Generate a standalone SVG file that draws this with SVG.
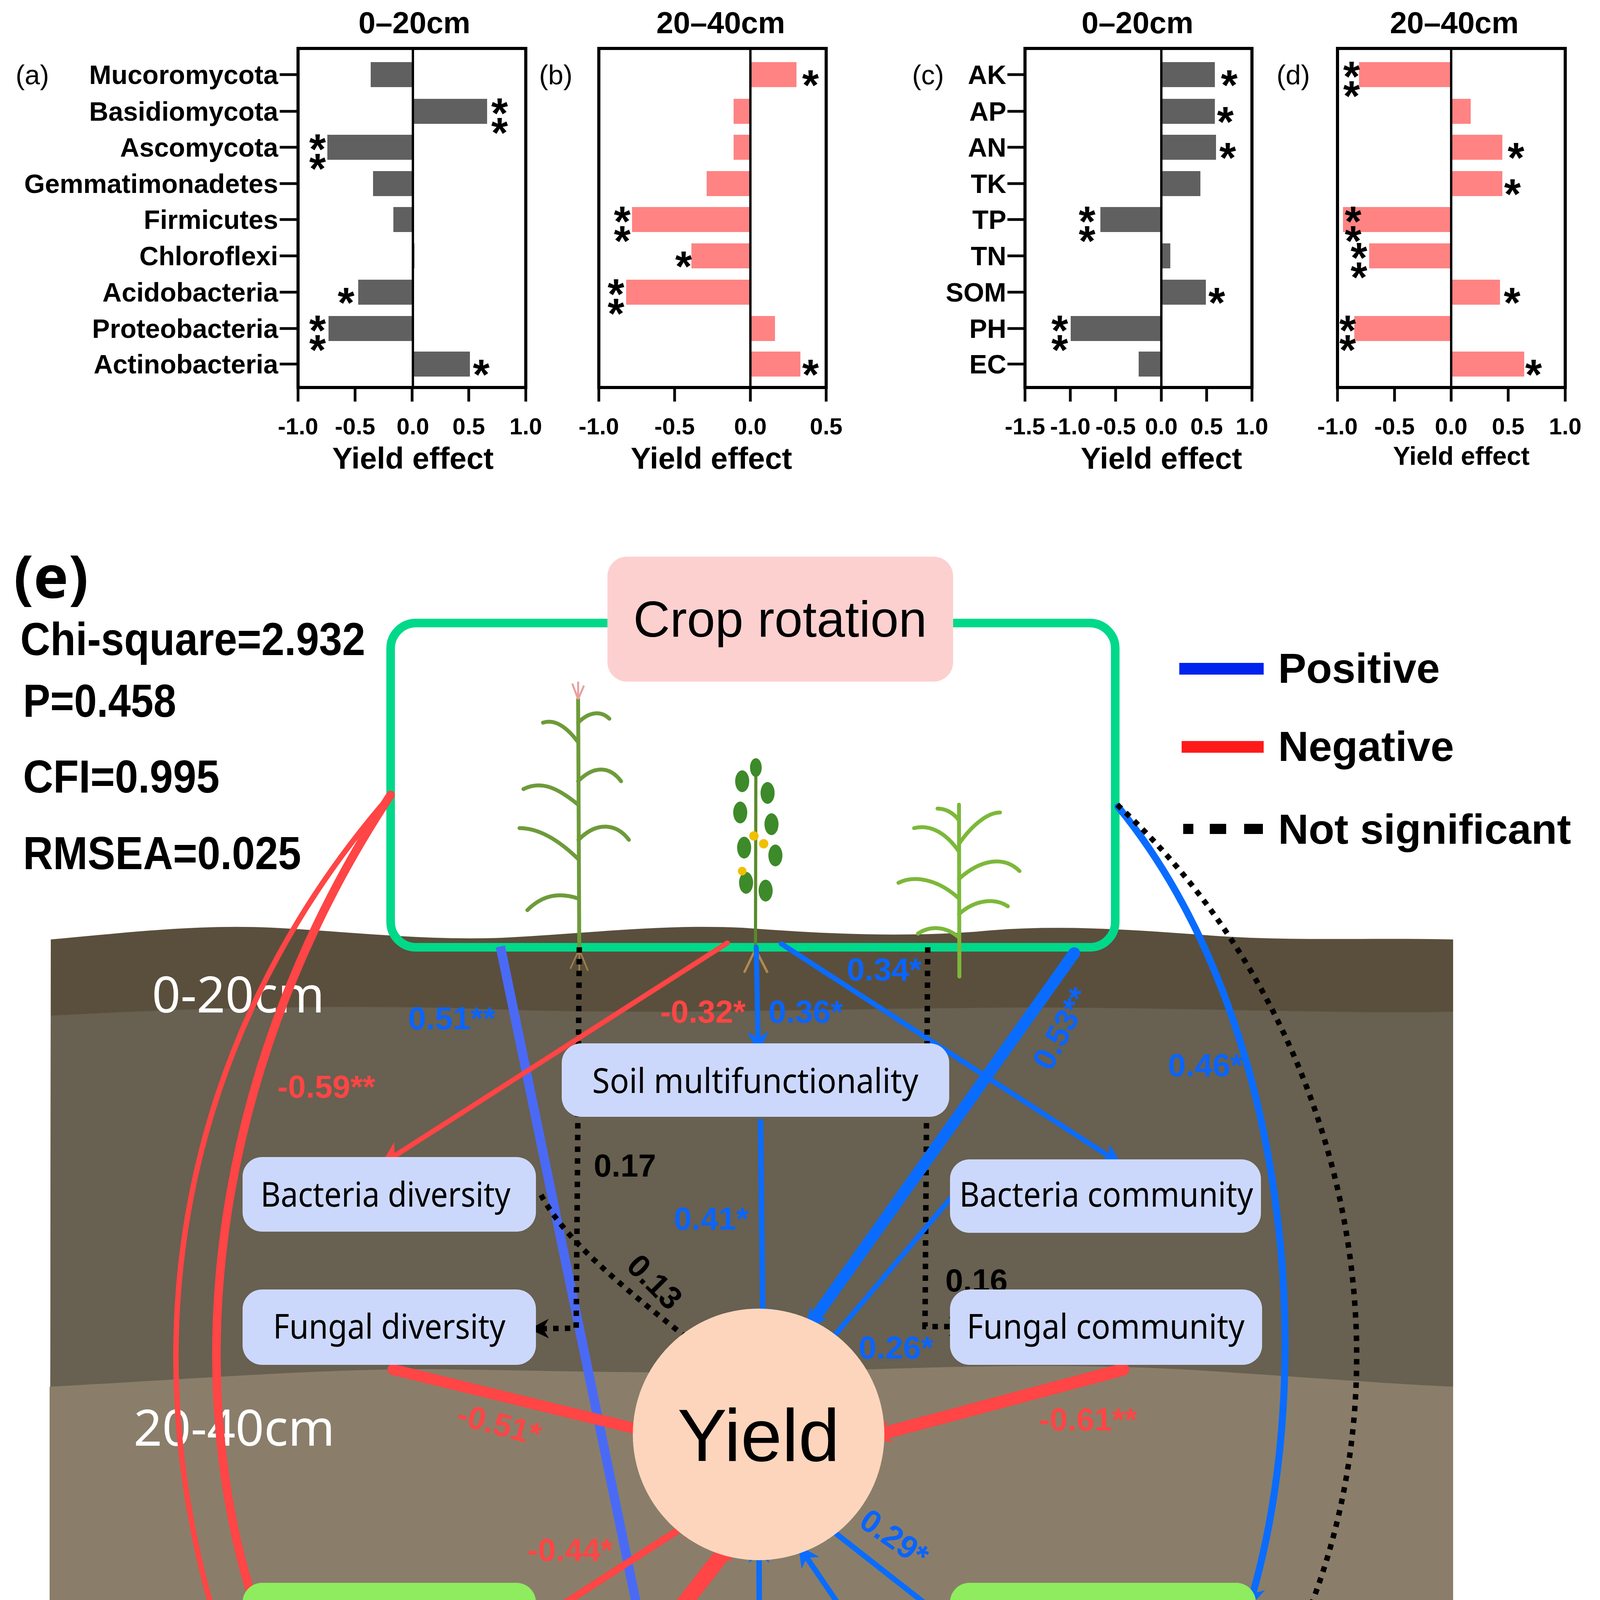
<svg xmlns="http://www.w3.org/2000/svg" width="4102" height="5161" viewBox="0 0 4102 5161">
<defs>
<style>
.ax{fill:none;stroke:#000;stroke-width:8}
.zl{stroke:#000;stroke-width:6}
.tk{stroke:#000;stroke-width:7}
.gb{fill:#606060}
.pb{fill:#ff8383}
.rl{font-family:"Liberation Sans",Arial,sans-serif;font-weight:bold;font-size:68px;fill:#000;text-anchor:end}
.tl{font-family:"Liberation Sans",Arial,sans-serif;font-weight:bold;font-size:60px;fill:#000;text-anchor:middle}
.tt{font-family:"Liberation Sans",Arial,sans-serif;font-weight:bold;font-size:78px;fill:#000;text-anchor:middle}
.st{font-family:"Liberation Sans",Arial,sans-serif;font-weight:bold;font-size:110px;fill:#000;text-anchor:middle}
.pl{font-family:"Liberation Sans",Arial,sans-serif;font-size:70px;fill:#000}
.node1{fill:#ccd8fb}
.node2{fill:#8eec5e}
.nt{font-family:"Noto Sans","Open Sans",sans-serif;font-size:88px;fill:#000}
.stat{font-family:"Liberation Sans",Arial,sans-serif;font-weight:bold;font-size:118px;fill:#000}
.lb{font-family:"Liberation Sans",Arial,sans-serif;font-weight:bold;font-size:82px}
.bl{fill:#0a64ff}
.rd{fill:#ff4545}
.bk{fill:#000}
.cb{fill:none;stroke:#0a6cff;stroke-linecap:round}
.cr{fill:none;stroke:#ff4545;stroke-linecap:round}
.cd{fill:none;stroke:#000;stroke-width:14;stroke-dasharray:14 16}
.lg{font-family:"Liberation Sans",Arial,sans-serif;font-weight:bold;font-size:108px;fill:#000}
</style>
<marker id="ab" viewBox="0 0 10 10" refX="8" refY="5" markerUnits="userSpaceOnUse" markerWidth="55" markerHeight="55" orient="auto"><path d="M0,0 L10,5 L0,10 L3,5 Z" fill="#0a6cff"/></marker>
<marker id="abl" viewBox="0 0 10 10" refX="8" refY="5" markerUnits="userSpaceOnUse" markerWidth="60" markerHeight="60" orient="auto"><path d="M0,0 L10,5 L0,10 L3,5 Z" fill="#4a6af5"/></marker>
<marker id="ar" viewBox="0 0 10 10" refX="8" refY="5" markerUnits="userSpaceOnUse" markerWidth="60" markerHeight="60" orient="auto"><path d="M0,0 L10,5 L0,10 L3,5 Z" fill="#ff4545"/></marker>
<marker id="ark" viewBox="0 0 10 10" refX="8" refY="5" markerUnits="userSpaceOnUse" markerWidth="50" markerHeight="50" orient="auto"><path d="M0,0 L10,5 L0,10 L3,5 Z" fill="#000"/></marker>
</defs>
<rect width="4102" height="5161" fill="#fff"/>

<g id="panel-a">
<text class="tt" x="1061" y="85">0–20cm</text>
<text class="pl" x="40" y="216">(a)</text>
<g class="gb">
<rect x="949" y="159" width="108" height="64"/>
<rect x="1057" y="253" width="190" height="64"/>
<rect x="838" y="345" width="219" height="64"/>
<rect x="955" y="438" width="102" height="64"/>
<rect x="1007" y="530" width="50" height="64"/>
<rect x="1055" y="623" width="6" height="64"/>
<rect x="917" y="716" width="140" height="64"/>
<rect x="841" y="809" width="216" height="64"/>
<rect x="1057" y="900" width="146" height="64"/>
</g>
<rect class="ax" x="763" y="124" width="583" height="868"/>
<line class="zl" x1="1057" y1="124" x2="1057" y2="992"/>
<g class="tk">
<line x1="716" y1="191" x2="763" y2="191"/><line x1="716" y1="285" x2="763" y2="285"/><line x1="716" y1="377" x2="763" y2="377"/><line x1="716" y1="470" x2="763" y2="470"/><line x1="716" y1="562" x2="763" y2="562"/><line x1="716" y1="655" x2="763" y2="655"/><line x1="716" y1="748" x2="763" y2="748"/><line x1="716" y1="841" x2="763" y2="841"/><line x1="716" y1="932" x2="763" y2="932"/>
<line x1="763" y1="992" x2="763" y2="1028"/><line x1="909" y1="992" x2="909" y2="1028"/><line x1="1055" y1="992" x2="1055" y2="1028"/><line x1="1200" y1="992" x2="1200" y2="1028"/><line x1="1346" y1="992" x2="1346" y2="1028"/>
</g>
<text class="rl" x="712" y="215">Mucoromycota</text>
<text class="rl" x="712" y="309">Basidiomycota</text>
<text class="rl" x="712" y="401">Ascomycota</text>
<text class="rl" x="712" y="494">Gemmatimonadetes</text>
<text class="rl" x="712" y="586">Firmicutes</text>
<text class="rl" x="712" y="679">Chloroflexi</text>
<text class="rl" x="712" y="772">Acidobacteria</text>
<text class="rl" x="712" y="865">Proteobacteria</text>
<text class="rl" x="712" y="956">Actinobacteria</text>
<text class="tl" x="763" y="1112">-1.0</text><text class="tl" x="909" y="1112">-0.5</text><text class="tl" x="1057" y="1112">0.0</text><text class="tl" x="1200" y="1112">0.5</text><text class="tl" x="1346" y="1112">1.0</text>
<text class="tt" x="1057" y="1200">Yield effect</text>
<text class="st" x="1279" y="327">*</text><text class="st" x="1279" y="377">*</text>
<text class="st" x="813" y="419">*</text><text class="st" x="813" y="469">*</text>
<text class="st" x="886" y="812">*</text>
<text class="st" x="813" y="883">*</text><text class="st" x="813" y="933">*</text>
<text class="st" x="1232" y="996">*</text>
</g>

<g id="panel-b">
<text class="tt" x="1845" y="85">20–40cm</text>
<text class="pl" x="1380" y="216">(b)</text>
<g class="pb">
<rect x="1921" y="159" width="118" height="64"/>
<rect x="1878" y="253" width="43" height="64"/>
<rect x="1878" y="345" width="43" height="64"/>
<rect x="1809" y="438" width="112" height="64"/>
<rect x="1618" y="530" width="303" height="64"/>
<rect x="1770" y="623" width="151" height="64"/>
<rect x="1603" y="716" width="318" height="64"/>
<rect x="1921" y="809" width="63" height="64"/>
<rect x="1921" y="900" width="128" height="64"/>
</g>
<rect class="ax" x="1533" y="124" width="582" height="868"/>
<line class="zl" x1="1921" y1="124" x2="1921" y2="992"/>
<g class="tk"><line x1="1533" y1="992" x2="1533" y2="1028"/><line x1="1727" y1="992" x2="1727" y2="1028"/><line x1="1921" y1="992" x2="1921" y2="1028"/><line x1="2115" y1="992" x2="2115" y2="1028"/></g>
<text class="tl" x="1533" y="1112">-1.0</text><text class="tl" x="1727" y="1112">-0.5</text><text class="tl" x="1921" y="1112">0.0</text><text class="tl" x="2115" y="1112">0.5</text>
<text class="tt" x="1821" y="1200">Yield effect</text>
<text class="st" x="2075" y="255">*</text>
<text class="st" x="1593" y="604">*</text><text class="st" x="1593" y="654">*</text>
<text class="st" x="1750" y="719">*</text>
<text class="st" x="1577" y="790">*</text><text class="st" x="1577" y="840">*</text>
<text class="st" x="2075" y="996">*</text>
</g>

<g id="panel-c">
<text class="tt" x="2912" y="85">0–20cm</text>
<text class="pl" x="2335" y="216">(c)</text>
<g class="gb">
<rect x="2973" y="159" width="137" height="64"/>
<rect x="2973" y="253" width="137" height="64"/>
<rect x="2973" y="345" width="140" height="64"/>
<rect x="2973" y="438" width="100" height="64"/>
<rect x="2817" y="530" width="156" height="64"/>
<rect x="2973" y="623" width="23" height="64"/>
<rect x="2973" y="716" width="114" height="64"/>
<rect x="2741" y="809" width="232" height="64"/>
<rect x="2915" y="900" width="58" height="64"/>
</g>
<rect class="ax" x="2624" y="124" width="581" height="868"/>
<line class="zl" x1="2973" y1="124" x2="2973" y2="992"/>
<g class="tk">
<line x1="2579" y1="191" x2="2624" y2="191"/><line x1="2579" y1="285" x2="2624" y2="285"/><line x1="2579" y1="377" x2="2624" y2="377"/><line x1="2579" y1="470" x2="2624" y2="470"/><line x1="2579" y1="562" x2="2624" y2="562"/><line x1="2579" y1="655" x2="2624" y2="655"/><line x1="2579" y1="748" x2="2624" y2="748"/><line x1="2579" y1="841" x2="2624" y2="841"/><line x1="2579" y1="932" x2="2624" y2="932"/>
<line x1="2624" y1="992" x2="2624" y2="1028"/><line x1="2740" y1="992" x2="2740" y2="1028"/><line x1="2856" y1="992" x2="2856" y2="1028"/><line x1="2973" y1="992" x2="2973" y2="1028"/><line x1="3089" y1="992" x2="3089" y2="1028"/><line x1="3205" y1="992" x2="3205" y2="1028"/>
</g>
<text class="rl" x="2576" y="215">AK</text><text class="rl" x="2576" y="309">AP</text><text class="rl" x="2576" y="401">AN</text><text class="rl" x="2576" y="494">TK</text><text class="rl" x="2576" y="586">TP</text><text class="rl" x="2576" y="679">TN</text><text class="rl" x="2576" y="772">SOM</text><text class="rl" x="2576" y="865">PH</text><text class="rl" x="2576" y="956">EC</text>
<text class="tl" x="2624" y="1112">-1.5</text><text class="tl" x="2740" y="1112">-1.0</text><text class="tl" x="2856" y="1112">-0.5</text><text class="tl" x="2973" y="1112">0.0</text><text class="tl" x="3089" y="1112">0.5</text><text class="tl" x="3205" y="1112">1.0</text>
<text class="tt" x="2973" y="1200">Yield effect</text>
<text class="st" x="3147" y="255">*</text>
<text class="st" x="3137" y="349">*</text>
<text class="st" x="3143" y="441">*</text>
<text class="st" x="2783" y="604">*</text><text class="st" x="2783" y="654">*</text>
<text class="st" x="3115" y="812">*</text>
<text class="st" x="2713" y="883">*</text><text class="st" x="2713" y="933">*</text>
</g>

<g id="panel-d">
<text class="tt" x="3723" y="85">20–40cm</text>
<text class="pl" x="3268" y="216">(d)</text>
<g class="pb">
<rect x="3479" y="159" width="236" height="64"/>
<rect x="3715" y="253" width="50" height="64"/>
<rect x="3715" y="345" width="131" height="64"/>
<rect x="3715" y="438" width="131" height="64"/>
<rect x="3438" y="530" width="277" height="64"/>
<rect x="3505" y="623" width="210" height="64"/>
<rect x="3715" y="716" width="125" height="64"/>
<rect x="3467" y="809" width="248" height="64"/>
<rect x="3715" y="900" width="187" height="64"/>
</g>
<rect class="ax" x="3424" y="124" width="583" height="868"/>
<line class="zl" x1="3715" y1="124" x2="3715" y2="992"/>
<g class="tk"><line x1="3424" y1="992" x2="3424" y2="1028"/><line x1="3570" y1="992" x2="3570" y2="1028"/><line x1="3715" y1="992" x2="3715" y2="1028"/><line x1="3861" y1="992" x2="3861" y2="1028"/><line x1="4007" y1="992" x2="4007" y2="1028"/></g>
<text class="tl" x="3424" y="1112">-1.0</text><text class="tl" x="3570" y="1112">-0.5</text><text class="tl" x="3715" y="1112">0.0</text><text class="tl" x="3861" y="1112">0.5</text><text class="tl" x="4007" y="1112">1.0</text>
<text class="tt" x="3741" y="1190" style="font-size:66px">Yield effect</text>
<text class="st" x="3460" y="233">*</text><text class="st" x="3460" y="283">*</text>
<text class="st" x="3881" y="441">*</text>
<text class="st" x="3872" y="534">*</text>
<text class="st" x="3464" y="604">*</text><text class="st" x="3464" y="654">*</text>
<text class="st" x="3479" y="697">*</text><text class="st" x="3479" y="747">*</text>
<text class="st" x="3871" y="812">*</text>
<text class="st" x="3450" y="883">*</text><text class="st" x="3450" y="933">*</text>
<text class="st" x="3926" y="996">*</text>
</g>

<g id="panel-e-bg">
<text x="35" y="1530" style="font-family:'Noto Sans','DejaVu Sans',sans-serif;font-weight:bold;font-size:150px">(e)</text>
<text class="stat" x="52" y="1677" textLength="883" lengthAdjust="spacingAndGlyphs">Chi-square=2.932</text>
<text class="stat" x="59" y="1835" textLength="392" lengthAdjust="spacingAndGlyphs">P=0.458</text>
<text class="stat" x="59" y="2029" textLength="503" lengthAdjust="spacingAndGlyphs">CFI=0.995</text>
<text class="stat" x="59" y="2225" textLength="712" lengthAdjust="spacingAndGlyphs">RMSEA=0.025</text>
<rect x="1000" y="1595" width="1855" height="830" rx="65" fill="#fff"/>
<path d="M130,2405 C300,2390 500,2365 700,2375 C900,2385 1100,2410 1300,2400 C1500,2390 1700,2365 1900,2375 C2100,2390 2300,2400 2500,2385 C2700,2365 2900,2380 3100,2395 C3300,2410 3500,2400 3720,2405 L3720,5125 L127,5125 Z" fill="#5a4f3c"/>
<path d="M130,2600 C500,2580 900,2570 1300,2585 C1800,2600 2300,2575 2800,2580 C3200,2585 3500,2595 3720,2590 L3720,5125 L127,5125 Z" fill="#686050"/>
<path d="M127,3550 C500,3530 800,3505 1100,3505 C1500,3510 1800,3520 2100,3510 C2500,3495 2800,3490 3100,3510 C3400,3530 3600,3545 3720,3550 L3720,5125 L127,5125 Z" fill="#8a7e6a"/>
<rect x="1000" y="1595" width="1855" height="830" rx="65" fill="none" stroke="#00d88a" stroke-width="22"/>
<text x="389" y="2592" style="font-family:'Noto Sans','Open Sans',sans-serif;font-size:128px;fill:#fff">0-20cm</text>
<text x="342" y="3701" style="font-family:'Noto Sans','Open Sans',sans-serif;font-size:128px;fill:#fff">20-40cm</text>
</g>

<g id="plants">
<g fill="none" stroke="#6e9b3a" stroke-width="10" stroke-linecap="round">
<path d="M1483,2440 L1480,1790"/>
<path d="M1480,2300 C1420,2280 1380,2300 1350,2330"/>
<path d="M1481,2200 C1430,2150 1380,2120 1330,2120"/>
<path d="M1481,2150 C1530,2100 1580,2110 1610,2150"/>
<path d="M1480,2060 C1420,2010 1380,2000 1340,2020"/>
<path d="M1480,2000 C1520,1960 1560,1960 1590,2000"/>
<path d="M1480,1900 C1450,1860 1420,1840 1390,1850"/>
<path d="M1480,1850 C1510,1820 1540,1820 1560,1840"/>
</g>
<g stroke="#e8a0a0" stroke-width="5"><path d="M1480,1790 L1465,1750 M1480,1790 L1495,1755 M1480,1790 L1480,1745"/></g>
<g stroke="#a08050" stroke-width="4" fill="none"><path d="M1483,2430 L1460,2480 M1483,2430 L1505,2485 M1483,2430 L1483,2490"/></g>
<path d="M1934,2440 L1935,1970" stroke="#5a8a2a" stroke-width="8" fill="none"/>
<g fill="#3d8a2a">
<ellipse cx="1900" cy="2000" rx="18" ry="28"/><ellipse cx="1965" cy="2030" rx="18" ry="28"/><ellipse cx="1895" cy="2080" rx="18" ry="28"/><ellipse cx="1975" cy="2110" rx="18" ry="28"/><ellipse cx="1905" cy="2170" rx="18" ry="28"/><ellipse cx="1985" cy="2190" rx="18" ry="28"/><ellipse cx="1910" cy="2260" rx="18" ry="28"/><ellipse cx="1960" cy="2280" rx="18" ry="28"/><ellipse cx="1935" cy="1965" rx="15" ry="24"/>
</g>
<g fill="#f0c000"><circle cx="1930" cy="2140" r="12"/><circle cx="1955" cy="2160" r="12"/><circle cx="1900" cy="2230" r="11"/></g>
<g stroke="#b08a50" stroke-width="6" fill="none"><path d="M1934,2430 L1905,2490 M1934,2430 L1965,2490 M1934,2430 L1934,2500"/></g>
<g fill="none" stroke="#7cb83a" stroke-width="10" stroke-linecap="round">
<path d="M2456,2500 L2455,2060"/>
<path d="M2455,2400 C2420,2370 2380,2370 2350,2390"/>
<path d="M2455,2340 C2500,2300 2550,2300 2580,2320"/>
<path d="M2455,2300 C2400,2250 2340,2240 2300,2260"/>
<path d="M2455,2250 C2510,2200 2570,2190 2610,2230"/>
<path d="M2455,2180 C2420,2130 2380,2110 2340,2120"/>
<path d="M2455,2160 C2490,2110 2530,2080 2560,2080"/>
<path d="M2455,2100 C2440,2080 2420,2070 2400,2070"/>
</g>
</g>

<g id="crop-rotation">
<rect x="1555" y="1425" width="885" height="320" rx="50" fill="#fdd0d0"/>
<text x="1997" y="1630" text-anchor="middle" style="font-family:'Liberation Sans',Arial,sans-serif;font-size:130px">Crop rotation</text>
</g>

<g id="legend">
<line x1="3019" y1="1712" x2="3235" y2="1712" stroke="#0022ee" stroke-width="30"/>
<line x1="3025" y1="1912" x2="3235" y2="1912" stroke="#ff1a1a" stroke-width="30"/>
<line x1="3029" y1="2122" x2="3235" y2="2122" stroke="#000" stroke-width="26" stroke-dasharray="26 42 42 46 48"/>
<text class="lg" x="3272" y="1748">Positive</text>
<text class="lg" x="3272" y="1948">Negative</text>
<text class="lg" x="3272" y="2160">Not significant</text>
</g>

<g id="connectors">
<path class="cr" d="M1000,2035 C560,2700 440,3500 665,4150" stroke-width="22" marker-end="url(#ar)"/>
<path class="cr" d="M1000,2035 C420,2700 270,3600 690,4515" stroke-width="14" marker-end="url(#ar)"/>
<path d="M1281,2423 L1782,4845" fill="none" stroke="#4a6af5" stroke-width="24" marker-end="url(#abl)"/>
<path class="cd" d="M1483,2425 L1475,3400 L1365,3402" marker-end="url(#ark)"/>
<path class="cd" d="M1385,3059 C1450,3180 1600,3300 1784,3445" marker-end="url(#ark)"/>
<path class="cr" d="M1862,2414 L985,2975" stroke-width="13" marker-end="url(#ar)"/>
<path class="cb" d="M1936,2425 L1941,2685" stroke-width="13" marker-end="url(#ab)"/>
<path class="cb" d="M2000,2416 L2862,2975" stroke-width="13" marker-end="url(#ab)"/>
<path class="cd" d="M2375,2425 L2368,3396 L2469,3396" marker-end="url(#ark)"/>
<path class="cb" d="M2750,2440 L2070,3396" stroke-width="30" marker-end="url(#ab)"/>
<path class="cb" d="M2436,3065 L2109,3451" stroke-width="13" marker-end="url(#ab)"/>
<path class="cb" d="M1947,2871 L1953,3390" stroke-width="14" marker-end="url(#ab)"/>
<path class="cb" d="M2862,2065 C3300,2600 3380,3500 3200,4105" stroke-width="18" marker-end="url(#ab)"/>
<path class="cd" d="M2860,2060 C3500,2650 3700,3700 3165,4470" marker-end="url(#ark)"/>
<path class="cr" d="M1006,3506 L1679,3670" stroke-width="28" marker-end="url(#ar)"/>
<path class="cr" d="M2875,3506 L2233,3677" stroke-width="32" marker-end="url(#ar)"/>
<path class="cr" d="M1372,4152 L1778,3890" stroke-width="18" marker-end="url(#ar)"/>
<path class="cr" d="M1385,4573 L1876,3945" stroke-width="40" marker-end="url(#ar)"/>
<path class="cb" d="M1947,4835 L1943,3957" stroke-width="14" marker-end="url(#ab)"/>
<path class="cb" d="M2436,4158 L2102,3896" stroke-width="14" marker-end="url(#ab)"/>
<path class="cb" d="M2443,4542 L2050,3965" stroke-width="14" marker-end="url(#ab)"/>
</g>

<g id="connector-labels">
<text class="lb rd" x="710" y="2810">-0.59**</text>
<text class="lb rd" x="385" y="4452">-0.39*</text>
<text class="lb bl" x="1045" y="2635">0.51**</text>
<text class="lb bk" x="1520" y="3012">0.17</text>
<text class="lb bk" x="1600" y="3245" transform="rotate(45 1600 3245)">0.13</text>
<text class="lb rd" x="1690" y="2618">-0.32*</text>
<text class="lb bl" x="1967" y="2618">0.36*</text>
<text class="lb bl" x="2168" y="2510">0.34*</text>
<text class="lb bk" x="2420" y="3306">0.16</text>
<text class="lb bl" x="2690" y="2745" transform="rotate(-62 2690 2745)">0.53**</text>
<text class="lb bl" x="2198" y="3478">0.26*</text>
<text class="lb bl" x="1725" y="3148">0.41*</text>
<text class="lb bl" x="2990" y="2755">0.46*</text>
<text class="lb bk" x="3318" y="4325">0.20</text>
<text class="lb rd" x="1165" y="3645" transform="rotate(15 1165 3645)">-0.51*</text>
<text class="lb rd" x="2660" y="3662">-0.61**</text>
<text class="lb rd" x="1350" y="3996">-0.44*</text>
<text class="lb rd" x="1470" y="4570">-0.64**</text>
<text class="lb bl" x="1978" y="4575">0.47*</text>
<text class="lb bl" x="2195" y="3905" transform="rotate(35 2195 3905)">0.29*</text>
<text class="lb bl" x="2265" y="4190" transform="rotate(55 2265 4190)">0.37*</text>
</g>

<g id="yield"><circle cx="1942" cy="3672" r="322" fill="#fdd5bc"/><text x="1942" y="3740" text-anchor="middle" style="font-family:'Liberation Sans',Arial,sans-serif;font-size:190px">Yield</text></g>
<g id="soil-mf-0-20"><rect class="node1" x="1438" y="2671" width="992" height="188" rx="50"/><text class="nt" x="1516" y="2798" textLength="835" lengthAdjust="spacingAndGlyphs">Soil multifunctionality</text></g>
<g id="bact-div-0-20"><rect class="node1" x="621" y="2962" width="751" height="191" rx="50"/><text class="nt" x="667" y="3089" textLength="640" lengthAdjust="spacingAndGlyphs">Bacteria diversity</text></g>
<g id="bact-com-0-20"><rect class="node1" x="2432" y="2968" width="796" height="188" rx="50"/><text class="nt" x="2456" y="3089" textLength="752" lengthAdjust="spacingAndGlyphs">Bacteria community</text></g>
<g id="fung-div-0-20"><rect class="node1" x="621" y="3301" width="751" height="193" rx="50"/><text class="nt" x="699" y="3427" textLength="595" lengthAdjust="spacingAndGlyphs">Fungal diversity</text></g>
<g id="fung-com-0-20"><rect class="node1" x="2432" y="3301" width="799" height="193" rx="50"/><text class="nt" x="2475" y="3427" textLength="711" lengthAdjust="spacingAndGlyphs">Fungal community</text></g>
<g id="bact-div-20-40"><rect class="node2" x="621" y="4052" width="751" height="195" rx="50"/><text class="nt" x="667" y="4183" textLength="643" lengthAdjust="spacingAndGlyphs">Bacteria diversity</text></g>
<g id="fung-div-20-40"><rect class="node2" x="621" y="4469" width="751" height="193" rx="50"/><text class="nt" x="699" y="4591" textLength="595" lengthAdjust="spacingAndGlyphs">Fungal diversity</text></g>
<g id="soil-mf-20-40"><rect class="node2" x="1490" y="4823" width="916" height="192" rx="50"/><text class="nt" x="1546" y="4951" textLength="831" lengthAdjust="spacingAndGlyphs">Soil multifunctionality</text></g>
<g id="bact-com-20-40"><rect class="node2" x="2432" y="4052" width="783" height="195" rx="50"/><text class="nt" x="2456" y="4183" textLength="752" lengthAdjust="spacingAndGlyphs">Bacteria community</text></g>
<g id="fung-com-20-40"><rect class="node2" x="2432" y="4430" width="752" height="191" rx="50"/><text class="nt" x="2456" y="4560" textLength="704" lengthAdjust="spacingAndGlyphs">Fungal community</text></g>
</svg>
